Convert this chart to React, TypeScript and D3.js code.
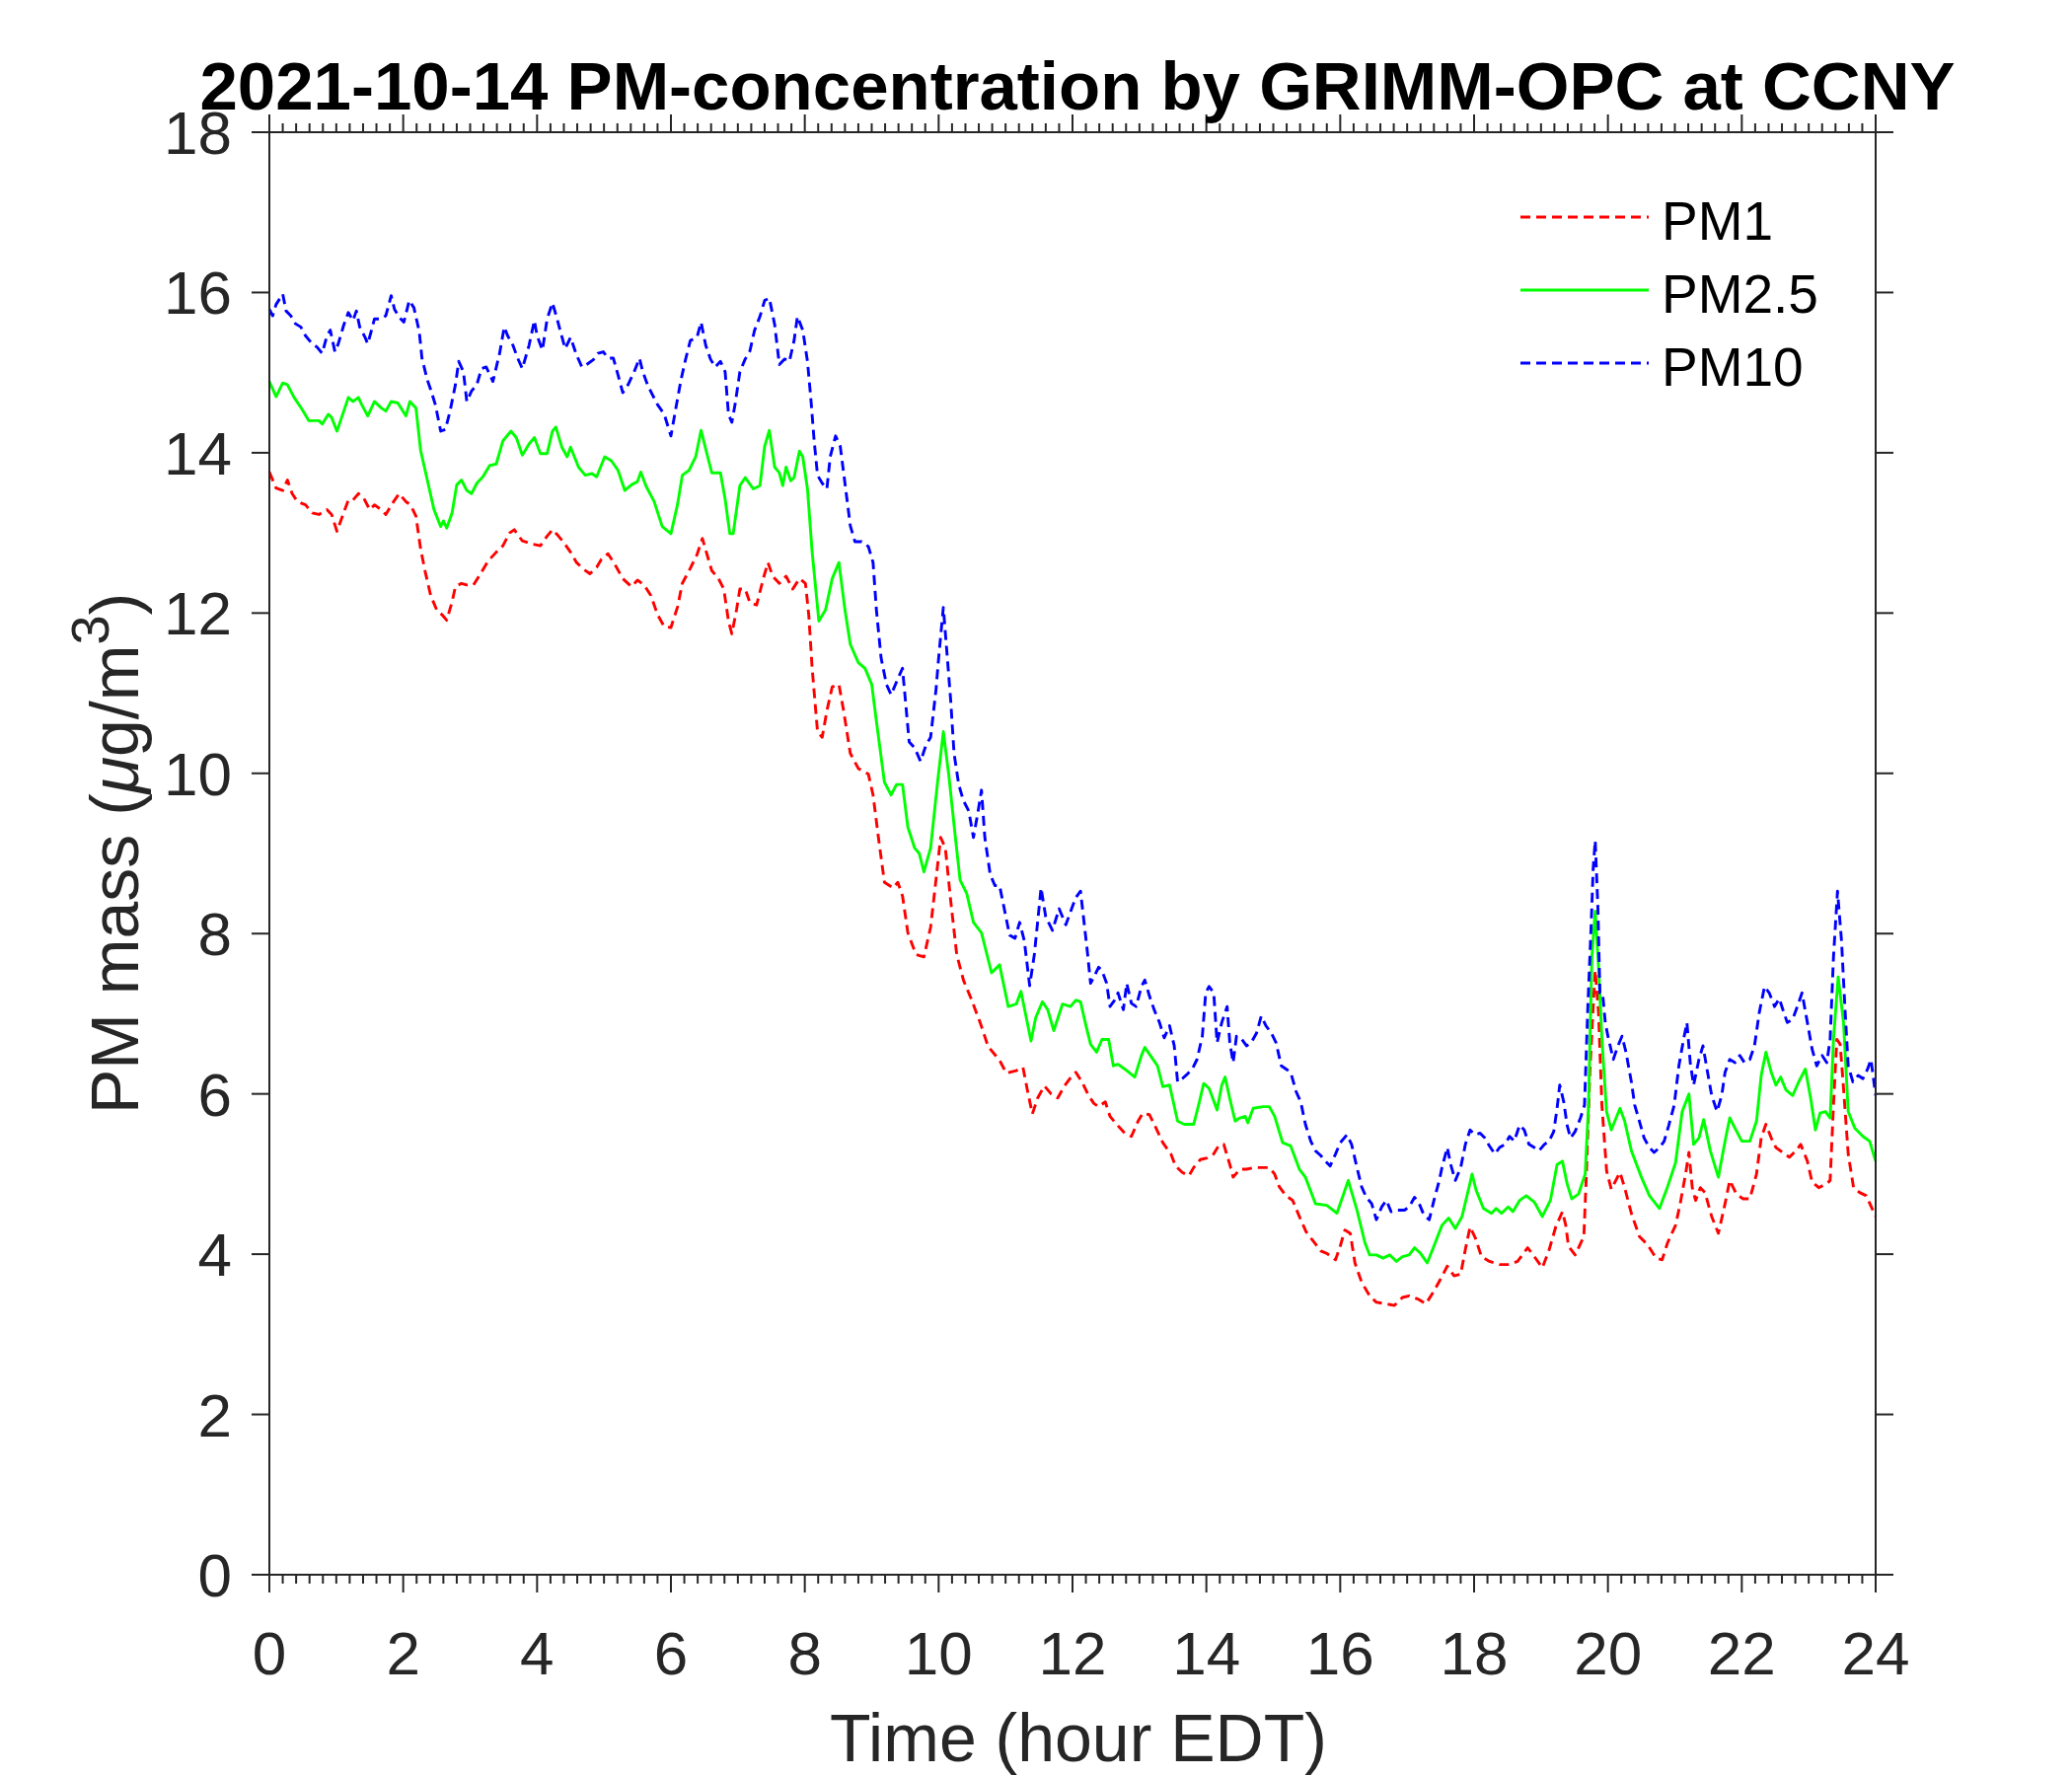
import React from 'react';
import * as d3 from 'd3';

// ---------- DATA ----------
const pm1Hours = [0.00,0.10,0.20,0.27,0.34,0.42,0.54,0.64,0.74,0.86,0.93,1.01,1.11,1.18,1.25,1.33,1.40,1.50,1.57,1.67,1.74,1.84,1.94,2.04,2.11,2.19,2.26,2.33,2.41,2.51,2.58,2.65,2.73,2.78,2.87,2.95,3.05,3.14,3.27,3.39,3.49,3.59,3.66,3.78,3.93,4.05,4.15,4.23,4.32,4.40,4.50,4.59,4.69,4.79,4.89,4.96,5.06,5.16,5.28,5.41,5.50,5.60,5.70,5.80,5.90,6.00,6.10,6.17,6.29,6.39,6.47,6.54,6.61,6.71,6.79,6.86,6.91,6.98,7.03,7.11,7.18,7.28,7.38,7.45,7.52,7.62,7.72,7.82,7.92,8.01,8.06,8.11,8.19,8.26,8.33,8.41,8.51,8.58,8.68,8.80,8.95,9.02,9.10,9.19,9.32,9.39,9.46,9.54,9.66,9.78,9.88,9.96,10.03,10.10,10.18,10.27,10.37,10.47,10.62,10.74,10.91,11.01,11.16,11.26,11.33,11.40,11.48,11.58,11.68,11.78,11.88,11.97,12.05,12.14,12.24,12.32,12.39,12.49,12.56,12.66,12.78,12.88,12.98,13.05,13.15,13.25,13.35,13.47,13.54,13.64,13.74,13.81,13.91,14.01,14.11,14.18,14.26,14.35,14.40,14.50,14.60,14.72,14.85,14.94,15.02,15.09,15.19,15.29,15.39,15.49,15.58,15.71,15.80,15.93,16.00,16.07,16.15,16.22,16.32,16.44,16.54,16.69,16.81,16.93,17.03,17.16,17.28,17.40,17.50,17.60,17.70,17.80,17.87,17.94,18.02,18.11,18.23,18.38,18.53,18.65,18.80,18.90,19.02,19.12,19.22,19.32,19.37,19.41,19.51,19.64,19.68,19.73,19.78,19.81,19.86,19.91,19.98,20.05,20.18,20.25,20.35,20.47,20.59,20.72,20.81,20.89,21.01,21.08,21.16,21.21,21.26,21.31,21.38,21.45,21.55,21.65,21.75,21.82,21.92,22.02,22.12,22.22,22.29,22.36,22.44,22.51,22.61,22.71,22.81,22.88,22.98,23.05,23.15,23.27,23.32,23.37,23.42,23.47,23.52,23.59,23.67,23.76,23.86,24.00];
const pm1Values = [13.76,13.56,13.53,13.66,13.49,13.39,13.35,13.25,13.23,13.29,13.23,13.02,13.25,13.41,13.41,13.49,13.45,13.29,13.35,13.29,13.23,13.37,13.49,13.39,13.35,13.21,12.80,12.51,12.22,12.02,11.98,11.91,12.14,12.33,12.37,12.35,12.35,12.47,12.65,12.76,12.84,13.00,13.04,12.90,12.86,12.84,12.96,13.04,12.96,12.88,12.76,12.63,12.55,12.49,12.57,12.67,12.74,12.61,12.43,12.33,12.41,12.35,12.22,11.98,11.83,11.82,12.08,12.37,12.56,12.73,12.93,12.73,12.53,12.43,12.30,11.90,11.74,12.04,12.30,12.30,12.13,12.10,12.43,12.63,12.46,12.37,12.46,12.30,12.43,12.37,11.97,11.31,10.52,10.45,10.78,11.08,11.11,10.78,10.25,10.06,9.99,9.73,9.20,8.64,8.57,8.64,8.47,8.01,7.74,7.71,8.08,8.67,9.20,9.07,8.41,7.74,7.42,7.22,6.89,6.59,6.42,6.26,6.29,6.33,6.03,5.75,5.95,6.10,6.00,5.95,6.10,6.20,6.27,6.15,5.98,5.88,5.84,5.90,5.72,5.62,5.51,5.47,5.66,5.76,5.74,5.57,5.39,5.25,5.10,5.02,4.98,5.08,5.18,5.20,5.25,5.35,5.37,5.12,4.96,5.06,5.06,5.08,5.08,5.08,5.00,4.84,4.73,4.67,4.47,4.28,4.18,4.04,4.01,3.93,4.10,4.30,4.26,3.89,3.65,3.48,3.40,3.38,3.36,3.46,3.48,3.44,3.38,3.54,3.69,3.85,3.73,3.75,4.06,4.34,4.20,3.97,3.91,3.87,3.87,3.91,4.08,3.97,3.83,4.05,4.34,4.53,4.36,4.10,3.99,4.22,5.04,6.27,7.09,7.54,7.01,5.86,5.04,4.81,5.02,4.83,4.51,4.22,4.12,3.95,3.93,4.14,4.36,4.63,5.00,5.27,4.83,4.67,4.83,4.77,4.47,4.26,4.63,4.92,4.75,4.69,4.69,5.00,5.45,5.62,5.45,5.33,5.27,5.21,5.29,5.37,5.16,4.90,4.83,4.88,4.92,5.86,6.68,6.62,6.07,5.25,4.83,4.77,4.73,4.47];

const pm25Hours = [0.00,0.10,0.20,0.27,0.37,0.49,0.59,0.74,0.79,0.88,0.93,1.01,1.08,1.18,1.25,1.33,1.38,1.47,1.57,1.67,1.74,1.82,1.92,2.04,2.10,2.19,2.26,2.36,2.46,2.56,2.60,2.65,2.73,2.80,2.87,2.95,3.02,3.10,3.19,3.29,3.39,3.49,3.61,3.69,3.78,3.88,3.96,4.05,4.15,4.23,4.28,4.37,4.45,4.50,4.62,4.72,4.82,4.89,5.01,5.11,5.21,5.31,5.41,5.50,5.55,5.63,5.75,5.87,6.00,6.10,6.17,6.27,6.37,6.45,6.54,6.61,6.74,6.81,6.88,6.93,7.03,7.11,7.23,7.33,7.40,7.47,7.55,7.62,7.67,7.72,7.79,7.84,7.92,7.97,8.04,8.11,8.21,8.31,8.41,8.51,8.60,8.68,8.80,8.90,9.00,9.07,9.19,9.29,9.37,9.46,9.54,9.64,9.71,9.78,9.88,9.98,10.07,10.15,10.25,10.32,10.42,10.52,10.64,10.79,10.91,11.04,11.16,11.23,11.38,11.45,11.55,11.63,11.72,11.85,11.97,12.05,12.12,12.19,12.27,12.36,12.44,12.54,12.61,12.68,12.78,12.93,13.03,13.08,13.18,13.27,13.35,13.45,13.57,13.67,13.81,13.89,13.96,14.04,14.08,14.16,14.23,14.28,14.35,14.43,14.50,14.58,14.62,14.70,14.85,14.94,15.02,15.14,15.26,15.39,15.48,15.63,15.80,15.95,16.05,16.12,16.25,16.37,16.44,16.54,16.64,16.74,16.84,16.93,17.03,17.11,17.20,17.30,17.40,17.52,17.62,17.72,17.82,17.92,17.97,18.03,18.14,18.26,18.33,18.41,18.51,18.58,18.68,18.78,18.90,19.02,19.14,19.24,19.32,19.39,19.46,19.56,19.66,19.71,19.76,19.81,19.86,19.91,19.98,20.05,20.18,20.25,20.35,20.50,20.62,20.77,20.89,21.01,21.11,21.21,21.28,21.36,21.43,21.53,21.65,21.75,21.82,21.90,22.00,22.12,22.22,22.29,22.36,22.44,22.51,22.58,22.66,22.76,22.85,22.95,23.03,23.10,23.17,23.25,23.32,23.37,23.44,23.52,23.59,23.69,23.81,23.91,24.00];
const pm25Values = [14.89,14.70,14.87,14.85,14.69,14.54,14.40,14.40,14.36,14.48,14.44,14.27,14.44,14.69,14.64,14.69,14.60,14.46,14.64,14.56,14.52,14.64,14.62,14.46,14.64,14.56,14.03,13.66,13.29,13.08,13.15,13.06,13.25,13.60,13.66,13.53,13.49,13.62,13.70,13.84,13.86,14.15,14.27,14.19,13.97,14.11,14.19,13.99,13.99,14.27,14.32,14.07,13.95,14.07,13.82,13.72,13.74,13.70,13.95,13.90,13.78,13.53,13.60,13.64,13.76,13.58,13.39,13.08,12.99,13.36,13.72,13.78,13.95,14.28,13.98,13.75,13.75,13.42,12.99,12.99,13.59,13.69,13.55,13.59,14.08,14.28,13.82,13.75,13.59,13.82,13.65,13.69,14.02,13.95,13.55,12.76,11.90,12.04,12.43,12.63,12.04,11.61,11.38,11.31,11.11,10.65,9.89,9.73,9.86,9.86,9.33,9.07,9.00,8.77,9.07,9.86,10.52,9.99,9.20,8.67,8.50,8.14,8.01,7.51,7.61,7.09,7.12,7.28,6.66,6.95,7.15,7.05,6.79,7.12,7.09,7.17,7.15,6.89,6.62,6.52,6.68,6.68,6.35,6.37,6.31,6.21,6.48,6.58,6.46,6.35,6.09,6.11,5.66,5.62,5.62,5.88,6.13,6.07,5.98,5.80,6.11,6.21,5.94,5.66,5.70,5.72,5.64,5.82,5.84,5.84,5.72,5.39,5.35,5.06,4.96,4.63,4.61,4.51,4.75,4.92,4.55,4.14,3.99,3.99,3.95,3.99,3.91,3.97,3.99,4.08,4.01,3.89,4.10,4.36,4.45,4.32,4.47,4.82,5.00,4.80,4.57,4.51,4.57,4.51,4.59,4.53,4.67,4.73,4.65,4.47,4.67,5.12,5.16,4.88,4.69,4.75,5.00,5.86,7.71,8.28,7.58,6.68,5.78,5.55,5.82,5.66,5.29,4.96,4.73,4.57,4.84,5.14,5.78,6.00,5.37,5.45,5.68,5.29,4.96,5.41,5.70,5.57,5.41,5.41,5.66,6.23,6.52,6.27,6.11,6.21,6.05,5.98,6.15,6.31,5.94,5.55,5.76,5.78,5.70,6.68,7.46,6.89,5.78,5.57,5.47,5.41,5.16];

const pm10Hours = [0.00,0.05,0.10,0.20,0.25,0.32,0.39,0.47,0.54,0.64,0.71,0.79,0.86,0.91,0.98,1.03,1.11,1.18,1.25,1.30,1.35,1.43,1.47,1.52,1.57,1.67,1.74,1.82,1.87,1.94,2.01,2.09,2.16,2.24,2.28,2.36,2.41,2.48,2.56,2.63,2.70,2.78,2.83,2.90,2.95,3.02,3.10,3.17,3.24,3.34,3.44,3.51,3.56,3.64,3.71,3.78,3.88,3.96,4.00,4.08,4.15,4.23,4.30,4.35,4.42,4.50,4.59,4.67,4.74,4.84,4.91,4.99,5.06,5.14,5.21,5.28,5.36,5.45,5.53,5.58,5.65,5.72,5.80,5.90,6.00,6.07,6.15,6.22,6.29,6.39,6.45,6.52,6.59,6.66,6.74,6.81,6.86,6.91,6.96,7.03,7.11,7.18,7.25,7.33,7.40,7.47,7.55,7.62,7.70,7.77,7.84,7.89,7.97,8.04,8.09,8.14,8.19,8.26,8.33,8.38,8.46,8.53,8.60,8.68,8.75,8.85,8.95,9.02,9.07,9.14,9.22,9.29,9.39,9.46,9.51,9.56,9.64,9.73,9.81,9.88,9.96,10.00,10.07,10.13,10.18,10.23,10.30,10.37,10.45,10.52,10.59,10.64,10.69,10.77,10.84,10.91,10.99,11.06,11.14,11.21,11.28,11.36,11.43,11.53,11.60,11.70,11.80,11.90,12.00,12.05,12.12,12.17,12.22,12.27,12.32,12.39,12.44,12.51,12.56,12.63,12.68,12.76,12.81,12.88,12.95,13.03,13.08,13.15,13.22,13.30,13.37,13.45,13.52,13.57,13.64,13.72,13.79,13.86,13.94,13.99,14.04,14.11,14.16,14.23,14.31,14.35,14.40,14.45,14.53,14.60,14.67,14.75,14.82,14.89,14.97,15.04,15.12,15.19,15.26,15.34,15.41,15.48,15.56,15.63,15.71,15.78,15.85,15.93,16.00,16.10,16.17,16.25,16.32,16.39,16.47,16.54,16.62,16.69,16.76,16.86,16.96,17.03,17.11,17.18,17.25,17.33,17.40,17.48,17.52,17.60,17.65,17.72,17.80,17.87,17.94,18.01,18.09,18.16,18.23,18.31,18.38,18.46,18.53,18.60,18.68,18.75,18.82,18.90,18.97,19.05,19.12,19.19,19.24,19.28,19.34,19.39,19.44,19.51,19.59,19.65,19.70,19.75,19.78,19.81,19.85,19.88,19.92,19.96,20.00,20.08,20.15,20.21,20.27,20.35,20.40,20.47,20.54,20.62,20.69,20.77,20.84,20.91,20.99,21.06,21.13,21.18,21.23,21.28,21.36,21.42,21.48,21.55,21.63,21.70,21.75,21.82,21.90,21.97,22.04,22.12,22.19,22.26,22.34,22.41,22.49,22.56,22.63,22.68,22.76,22.83,22.90,22.98,23.05,23.12,23.20,23.27,23.32,23.37,23.43,23.49,23.54,23.59,23.66,23.74,23.81,23.88,23.93,24.00];
const pm10Values = [15.79,15.71,15.85,15.98,15.77,15.71,15.61,15.57,15.46,15.36,15.32,15.24,15.46,15.53,15.26,15.36,15.59,15.75,15.65,15.77,15.57,15.44,15.36,15.51,15.67,15.67,15.71,15.96,15.79,15.69,15.63,15.90,15.81,15.51,15.18,14.91,14.79,14.60,14.27,14.29,14.52,14.85,15.14,15.01,14.64,14.77,14.85,15.05,15.07,14.89,15.24,15.57,15.46,15.34,15.18,15.05,15.34,15.65,15.46,15.28,15.67,15.87,15.67,15.51,15.30,15.44,15.22,15.07,15.10,15.16,15.24,15.26,15.18,15.18,14.97,14.75,14.85,15.01,15.18,15.01,14.85,14.73,14.60,14.48,14.21,14.54,14.91,15.17,15.40,15.44,15.63,15.34,15.17,15.07,15.14,15.01,14.48,14.38,14.61,15.01,15.17,15.27,15.53,15.70,15.90,15.93,15.60,15.10,15.17,15.14,15.40,15.70,15.53,15.14,14.68,14.15,13.72,13.62,13.55,13.95,14.21,14.08,13.62,13.09,12.89,12.89,12.83,12.63,12.04,11.44,11.11,10.98,11.18,11.31,10.85,10.39,10.32,10.15,10.35,10.45,11.04,11.44,12.07,11.44,10.91,10.25,9.86,9.66,9.53,9.20,9.53,9.79,9.20,8.74,8.60,8.60,8.27,7.98,7.94,8.14,7.91,7.35,7.74,8.57,8.21,8.04,8.31,8.11,8.34,8.45,8.53,8.16,7.79,7.38,7.46,7.58,7.54,7.38,7.09,7.17,7.26,7.05,7.38,7.13,7.09,7.34,7.42,7.22,7.05,6.89,6.70,6.85,6.60,6.15,6.19,6.25,6.31,6.43,6.72,7.26,7.34,7.26,6.64,6.89,7.09,6.64,6.39,6.72,6.68,6.60,6.64,6.76,6.97,6.85,6.76,6.64,6.35,6.31,6.27,6.03,5.90,5.62,5.41,5.29,5.23,5.16,5.10,5.25,5.39,5.49,5.37,5.08,4.84,4.71,4.63,4.43,4.59,4.67,4.53,4.55,4.55,4.59,4.71,4.63,4.49,4.43,4.67,4.92,5.08,5.33,5.12,4.92,5.08,5.37,5.55,5.49,5.51,5.45,5.35,5.25,5.33,5.37,5.47,5.41,5.61,5.55,5.37,5.33,5.29,5.37,5.41,5.53,5.82,6.11,5.90,5.61,5.45,5.53,5.70,5.86,7.09,8.12,8.82,9.16,8.32,7.26,7.26,6.89,6.72,6.43,6.60,6.72,6.52,6.15,5.86,5.66,5.45,5.33,5.27,5.33,5.41,5.61,5.86,6.35,6.68,6.89,6.39,6.11,6.43,6.60,6.31,5.98,5.78,5.98,6.27,6.43,6.39,6.48,6.39,6.43,6.60,7.01,7.34,7.26,7.09,7.19,7.01,6.89,6.93,7.09,7.26,6.89,6.56,6.35,6.48,6.39,6.68,7.71,8.53,7.91,7.09,6.35,6.15,6.23,6.19,6.31,6.43,5.98];

const xTicks = [0, 2, 4, 6, 8, 10, 12, 14, 16, 18, 20, 22, 24];
const yTicks = [0, 2, 4, 6, 8, 10, 12, 14, 16, 18];
const seriesNames = ['PM1', 'PM2.5', 'PM10'];
const seriesColors = ['#ff0000', '#00ff00', '#0000ff'];
const seriesDash = ['10,6', '', '10,6'];

const titleText = '2021-10-14 PM-concentration by GRIMM-OPC at CCNY';
const xLabelText = 'Time (hour EDT)';

// ---------- LAYOUT ----------
const W = 2100;
const H = 1800;
const LEFT = 273;
const RIGHT = 1901;
const TOP = 134;
const BOTTOM = 1596;
const AX = '#262626';
const FONT = '"Liberation Sans", Arial, Helvetica, sans-serif';

export default function App() {
  const x = d3.scaleLinear().domain([0, 24]).range([LEFT, RIGHT]);
  const y = d3.scaleLinear().domain([0, 18]).range([BOTTOM, TOP]);

  const series = [
    { h: pm1Hours, v: pm1Values },
    { h: pm25Hours, v: pm25Values },
    { h: pm10Hours, v: pm10Values },
  ];

  const line = d3
    .line<[number, number]>()
    .x((d) => x(d[0]))
    .y((d) => y(d[1]));

  const minorTicks = d3
    .range(0, 120 + 1)
    .map((i) => i * 0.2)
    .filter((_, i) => i % 10 !== 0);

  const majLen = 18;
  const minLen = 9;

  return (
    <svg
      width={W}
      height={H}
      viewBox={`0 0 ${W} ${H}`}
      style={{ position: 'absolute', left: 0, top: 0, background: '#ffffff' }}
      fontFamily={FONT}
    >
      <rect x={0} y={0} width={W} height={H} fill="#ffffff" />

      {/* data */}
      {series.map((s, i) => (
        <path
          key={seriesNames[i]}
          d={line(s.h.map((hh, k) => [hh, s.v[k]] as [number, number])) || ''}
          fill="none"
          stroke={seriesColors[i]}
          strokeWidth={2.9}
          strokeDasharray={seriesDash[i] || undefined}
          strokeLinejoin="round"
        />
      ))}

      {/* axes box */}
      <rect
        x={LEFT}
        y={TOP}
        width={RIGHT - LEFT}
        height={BOTTOM - TOP}
        fill="none"
        stroke={AX}
        strokeWidth={2}
      />

      {/* x major ticks (bottom and top, outward) */}
      {xTicks.map((t) => (
        <g key={'xt' + t}>
          <line x1={x(t)} x2={x(t)} y1={BOTTOM} y2={BOTTOM + majLen} stroke={AX} strokeWidth={2} />
          <line x1={x(t)} x2={x(t)} y1={TOP} y2={TOP - majLen} stroke={AX} strokeWidth={2} />
          <text x={x(t)} y={1697} textAnchor="middle" fontSize={62} fill={AX}>
            {String(t)}
          </text>
        </g>
      ))}
      {/* x minor ticks */}
      {minorTicks.map((t) => (
        <g key={'xm' + t.toFixed(1)}>
          <line x1={x(t)} x2={x(t)} y1={BOTTOM} y2={BOTTOM + minLen} stroke={AX} strokeWidth={2} />
          <line x1={x(t)} x2={x(t)} y1={TOP} y2={TOP - minLen} stroke={AX} strokeWidth={2} />
        </g>
      ))}

      {/* y ticks (left and right, outward) */}
      {yTicks.map((t) => (
        <g key={'yt' + t}>
          <line x1={LEFT} x2={LEFT - majLen} y1={y(t)} y2={y(t)} stroke={AX} strokeWidth={2} />
          <line x1={RIGHT} x2={RIGHT + majLen} y1={y(t)} y2={y(t)} stroke={AX} strokeWidth={2} />
          <text x={LEFT - 38} y={y(t) + 22} textAnchor="end" fontSize={62} fill={AX}>
            {String(t)}
          </text>
        </g>
      ))}

      {/* title */}
      <text x={1092} y={111} textAnchor="middle" fontSize={69} fontWeight="bold" fill="#000000">
        {titleText}
      </text>

      {/* x label */}
      <text x={1093} y={1785} textAnchor="middle" fontSize={68} fill={AX}>
        {xLabelText}
      </text>

      {/* y label */}
      <text
        transform={`translate(140,${(TOP + BOTTOM) / 2}) rotate(-90)`}
        textAnchor="middle"
        fontSize={68}
        fill={AX}
      >
        PM mass (<tspan fontStyle="italic">μ</tspan>g/m<tspan fontSize={54} dy={-30}>3</tspan>
        <tspan dy={30}>)</tspan>
      </text>

      {/* legend */}
      {seriesNames.map((n, i) => {
        const ly = 220 + i * 74;
        return (
          <g key={'lg' + n}>
            <line
              x1={1541}
              x2={1671}
              y1={ly}
              y2={ly}
              stroke={seriesColors[i]}
              strokeWidth={2.9}
              strokeDasharray={seriesDash[i] || undefined}
            />
            <text x={1684} y={ly + 23} fontSize={55} fill="#000000">
              {n}
            </text>
          </g>
        );
      })}
    </svg>
  );
}
